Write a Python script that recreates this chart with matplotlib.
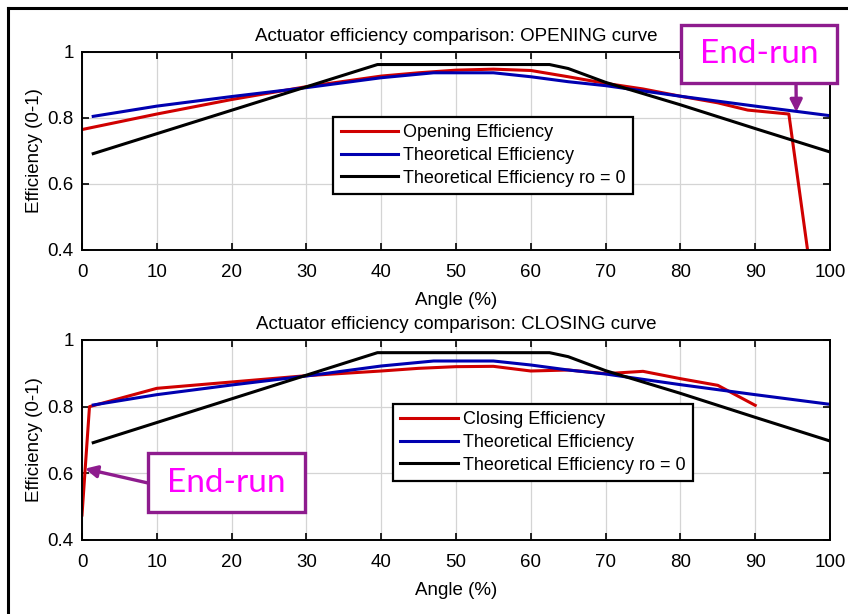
import matplotlib
matplotlib.use("Agg")
import matplotlib.pyplot as plt
from matplotlib.lines import Line2D
from matplotlib.patches import Rectangle

plt.rcParams["font.family"] = ["Liberation Sans", "DejaVu Sans"]

# Courbes théoriques (identiques pour les deux graphes)
theo_x = [1.5, 10, 20, 30, 40, 47, 55, 60, 65, 70, 80, 90, 100]
theo_y = [0.805, 0.836, 0.865, 0.892, 0.922, 0.937, 0.937, 0.925, 0.91, 0.898, 0.866, 0.836, 0.807]

theo0_x = [1.5, 39.5, 62.5, 65, 70, 80, 90, 100]
theo0_y = [0.692, 0.962, 0.962, 0.950, 0.908, 0.840, 0.768, 0.697]

# Rendement mesuré à l'ouverture
open_x = [0, 10, 20, 30, 40, 45, 50, 55, 60, 65, 70, 75, 80, 85, 89, 94.5, 97]
open_y = [0.765, 0.812, 0.856, 0.895, 0.927, 0.937, 0.945, 0.948, 0.944, 0.925, 0.905, 0.888, 0.866, 0.846, 0.824, 0.812, 0.40]

# Rendement mesuré à la fermeture
close_x = [0, 1, 10, 20, 30, 40, 45, 50, 55, 60, 65, 70, 75, 80, 85, 90]
close_y = [0.475, 0.80, 0.855, 0.874, 0.893, 0.907, 0.915, 0.92, 0.921, 0.907, 0.91, 0.899, 0.906, 0.884, 0.864, 0.804]

x_ticks = [0, 10, 20, 30, 40, 50, 60, 70, 80, 90, 100]
y_ticks = [0.4, 0.6, 0.8, 1.0]
y_tick_labels = ["0.4", "0.6", "0.8", "1"]

W, H = 848, 614
fig = plt.figure(figsize=(W / 100, H / 100), dpi=100)


def px(x, y):
    # pixels (origine en haut à gauche) -> fraction de figure
    return x / W, 1 - y / H


def tracer(ax, mes_x, mes_y, mes_label, titre, leg_anchor):
    ax.plot(mes_x, mes_y, color="#d00000", lw=2.2, label=mes_label)
    ax.plot(theo_x, theo_y, color="#0000b0", lw=2.2, label="Theoretical Efficiency")
    ax.plot(theo0_x, theo0_y, color="black", lw=2.2, label="Theoretical Efficiency ro = 0")
    ax.set_xlim(0, 100)
    ax.set_ylim(0.4, 1.0)
    ax.set_xticks(x_ticks)
    ax.set_yticks(y_ticks)
    ax.set_yticklabels(y_tick_labels)
    ax.grid(True, color="#d4d4d4", lw=0.9)
    ax.tick_params(direction="in", top=True, right=True, length=5, width=1.2,
                   labelsize=13.5)
    ax.tick_params(axis="x", pad=10)
    ax.tick_params(axis="y", pad=6)
    for s in ax.spines.values():
        s.set_linewidth(1.4)
    ax.set_title(titre, fontsize=13.5, pad=8)
    ax.set_xlabel("Angle (%)", fontsize=13.5, labelpad=8)
    ax.set_ylabel("Efficiency (0-1)", fontsize=13.5, labelpad=3)
    leg = ax.legend(loc="upper left", bbox_to_anchor=leg_anchor, fontsize=13,
                    frameon=True, fancybox=False, framealpha=1, edgecolor="black",
                    handlelength=3.2, handletextpad=0.25, borderpad=0.4,
                    labelspacing=0.32, borderaxespad=0)
    leg.get_frame().set_linewidth(1.6)


ax1 = fig.add_axes([82 / W, 1 - 250 / H, 748 / W, 198 / H])
tracer(ax1, open_x, open_y, "Opening Efficiency",
       "Actuator efficiency comparison: OPENING curve", (0.336, 0.672))

ax2 = fig.add_axes([82 / W, 1 - 540 / H, 748 / W, 200 / H])
tracer(ax2, close_x, close_y, "Closing Efficiency",
       "Actuator efficiency comparison: CLOSING curve", (0.416, 0.68))

# Encadrés "End-run" avec flèche
violet = "#8e1c8e"


def encadre(x0, y0, x1, y1):
    fx0, fy1 = px(x0, y1)
    fx1, fy0 = px(x1, y0)
    fig.patches.append(Rectangle((fx0, fy1), fx1 - fx0, fy0 - fy1,
                                 transform=fig.transFigure, fc="white",
                                 ec=violet, lw=2.4, zorder=5))
    cx, cy = px((x0 + x1) / 2, (y0 + y1) / 2)
    fig.text(cx, cy, "End-run", color="#ff00ff", fontsize=24,
             family=["Lato", "DejaVu Sans"], ha="center", va="center", zorder=6)


encadre(681, 25, 837, 83)
ax1.annotate("", xy=(95.5, 0.818), xycoords="data",
             xytext=px(796, 83), textcoords="figure fraction",
             arrowprops=dict(arrowstyle="-|>", color=violet, lw=2.4,
                             mutation_scale=18, shrinkA=0, shrinkB=0))

encadre(148, 453, 305, 512)
ax2.annotate("", xy=(0.4, 0.614), xycoords="data",
             xytext=px(148, 483), textcoords="figure fraction",
             arrowprops=dict(arrowstyle="-|>", color=violet, lw=2.4,
                             mutation_scale=18, shrinkA=0, shrinkB=0))

# Cadre extérieur (haut et gauche)
fig.add_artist(Line2D([8 / W, 1], [1 - 8 / H, 1 - 8 / H], color="black", lw=2.2,
                      transform=fig.transFigure))
fig.add_artist(Line2D([8 / W, 8 / W], [0, 1 - 8 / H], color="black", lw=2.2,
                      transform=fig.transFigure))

fig.savefig("out.png", dpi=100, facecolor="white")
